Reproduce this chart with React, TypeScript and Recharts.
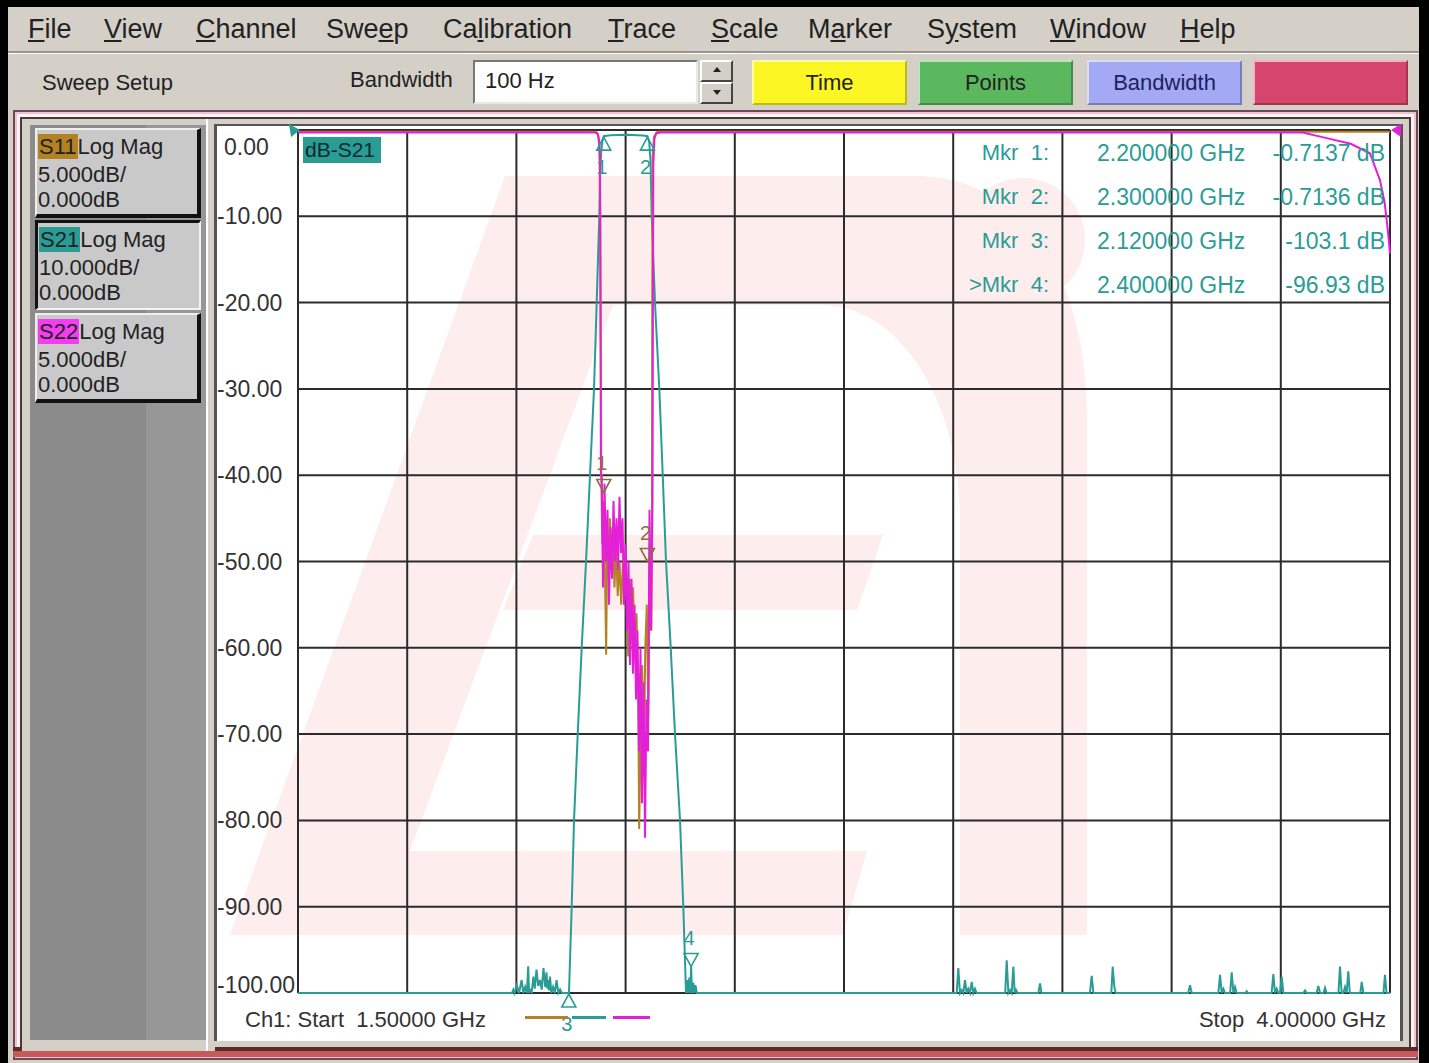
import React from 'react';
import {
  LineChart,
  Line,
  XAxis,
  YAxis,
  CartesianGrid,
  ReferenceDot,
} from 'recharts';

// ---------------- DATA ----------------
const startGHz = 1.5;
const stopGHz = 4.0;
const xGridValues = [1.5, 1.75, 2.0, 2.25, 2.5, 2.75, 3.0, 3.25, 3.5, 3.75, 4.0];
const yTicks = [0, -10, -20, -30, -40, -50, -60, -70, -80, -90, -100];
const yTickLabels = ['0.00', '-10.00', '-20.00', '-30.00', '-40.00', '-50.00', '-60.00', '-70.00', '-80.00', '-90.00', '-100.00'];

// S21, 10 dB/div : [GHz, dB]
const s21Trace: [number, number][] = [
  [1.5, -100], [1.99, -100],
  [1.993, -99.6], [1.996, -100], [2.001, -99.1], [2.006, -100], [2.012, -98.5], [2.016, -100],
  [2.02, -99.3], [2.024, -100], [2.027, -96.9], [2.029, -100], [2.031, -99.6], [2.035, -99.9],
  [2.039, -98.1], [2.042, -99.5], [2.046, -97.3], [2.05, -99.2], [2.054, -98.5], [2.058, -99.6],
  [2.062, -97.1], [2.066, -99.3], [2.069, -97.6], [2.071, -99.5], [2.073, -98.5], [2.075, -99.7],
  [2.077, -98.1], [2.08, -100], [2.084, -99.3], [2.088, -100], [2.092, -98.5], [2.096, -100],
  [2.1, -99.6], [2.104, -100],
  [2.1204, -100], [2.1266, -90], [2.1319, -80], [2.1404, -70], [2.1495, -60], [2.1594, -50],
  [2.1685, -40], [2.1777, -30], [2.1838, -20], [2.1898, -10], [2.1914, -5], [2.194, -2.6],
  [2.197, -1.3], [2.2, -0.7137], [2.215, -0.62], [2.235, -0.58], [2.255, -0.56], [2.275, -0.6],
  [2.29, -0.65], [2.3, -0.7136], [2.304, -1.4], [2.307, -3.5], [2.3098, -10], [2.3173, -20],
  [2.3272, -30], [2.335, -40], [2.3425, -50], [2.3533, -60], [2.3631, -70], [2.3746, -80],
  [2.3821, -90], [2.3883, -100],
  [2.391, -98.5], [2.393, -100], [2.396, -98.2], [2.398, -100], [2.4, -96.93], [2.402, -100],
  [2.405, -98.8], [2.407, -100], [2.41, -99.1], [2.413, -100],
  [3.008, -100], [3.0117, -97.1], [3.0155, -100], [3.0194, -99.65], [3.0232, -100], [3.027, -98.5],
  [3.0308, -100], [3.0346, -99.5], [3.0385, -100], [3.0423, -98.7], [3.0461, -100], [3.0499, -99.5],
  [3.0537, -100],
  [3.119, -100], [3.1225, -96.2], [3.1263, -100], [3.1301, -99.65], [3.1339, -100], [3.1377, -96.95],
  [3.1408, -100], [3.1438, -99.65], [3.147, -100],
  [3.195, -100], [3.1988, -98.9], [3.202, -100],
  [3.313, -100], [3.3171, -98.0], [3.321, -100],
  [3.362, -100], [3.3651, -96.95], [3.3689, -99.3], [3.372, -100],
  [3.538, -100], [3.5422, -99.1], [3.546, -100],
  [3.607, -100], [3.6109, -97.9], [3.6147, -100], [3.6185, -99.5], [3.6223, -100],
  [3.634, -100], [3.6376, -97.6], [3.6414, -100], [3.6452, -99.3], [3.649, -100],
  [3.669, -100], [3.672, -99.8], [3.675, -100],
  [3.729, -100], [3.7329, -97.8], [3.7367, -100], [3.7406, -99.5], [3.7444, -100], [3.7482, -100],
  [3.752, -98.1], [3.756, -100],
  [3.802, -100], [3.8054, -99.7], [3.809, -100],
  [3.832, -100], [3.8359, -99.2], [3.84, -100], [3.848, -100], [3.8512, -99.4], [3.855, -100],
  [3.882, -100], [3.8855, -96.95], [3.8893, -100], [3.8932, -100], [3.897, -99.3], [3.9008, -100],
  [3.9045, -97.5], [3.908, -100],
  [3.932, -100], [3.9352, -98.7], [3.939, -100],
  [3.985, -100], [3.9885, -97.9], [3.992, -100], [4.0, -100],
];

// S11, 5 dB/div : [GHz, dB]
const s11Trace: [number, number][] = [
  [1.5, -0.1], [2.182, -0.1], [2.187, -0.3], [2.19, -1], [2.192, -5], [2.1945, -20],
  [2.1965, -24], [2.1995, -21.5], [2.203, -26], [2.2055, -30.4], [2.208, -23.5], [2.211, -26],
  [2.214, -22.5], [2.2175, -25], [2.221, -23], [2.2245, -26.5], [2.228, -24], [2.232, -27],
  [2.236, -25], [2.24, -27.5], [2.244, -25], [2.248, -27], [2.252, -25.5], [2.256, -30.5],
  [2.2595, -26], [2.263, -28.5], [2.267, -26.5], [2.271, -30], [2.275, -28], [2.279, -33],
  [2.281, -40.5], [2.2845, -35], [2.288, -31], [2.2915, -37.5], [2.295, -30], [2.2985, -27.5],
  [2.302, -34], [2.3055, -24], [2.309, -29], [2.3105, -22], [2.3112, -8], [2.312, -1.5],
  [2.315, -0.4], [2.322, -0.1], [4.0, -0.1],
];

// S22, 5 dB/div : [GHz, dB]
const s22Trace: [number, number][] = [
  [1.5, -0.15], [2.18, -0.15], [2.186, -0.2], [2.1895, -0.6], [2.1915, -1.8], [2.1935, -20],
  [2.1953, -20], [2.1983, -26.5], [2.2017, -20.5], [2.2051, -25], [2.2086, -22], [2.212, -27.5],
  [2.2154, -23], [2.2189, -26], [2.2223, -21.5], [2.2257, -25], [2.2292, -22.5], [2.2326, -25.5],
  [2.236, -21.25], [2.2395, -24.5], [2.2429, -22.5], [2.2463, -27.5], [2.2498, -24], [2.2532, -29],
  [2.2566, -25], [2.2601, -31], [2.2635, -26], [2.2669, -31.5], [2.2704, -27.5], [2.2738, -33],
  [2.2772, -29], [2.2807, -36], [2.2841, -30], [2.2875, -39], [2.291, -32], [2.2944, -41],
  [2.2978, -33], [2.3013, -36], [2.3047, -22], [2.3081, -29], [2.3116, -21.5], [2.3125, -10],
  [2.3135, -2], [2.316, -0.5], [2.32, -0.2], [2.33, -0.15], [3.8, -0.15], [3.86, -0.5],
  [3.91, -0.8], [3.954, -1.35], [3.977, -2.9], [3.988, -4.25], [3.995, -5.8], [4.0, -7.15],
];

// Markers on S21
const markerNums = [1, 2, 3, 4];
const markerFreqs = [2.2, 2.3, 2.12, 2.4];
const markerDbs = [-0.7137, -0.7136, -103.1, -96.93];
const markerFreqText = ['2.200000 GHz', '2.300000 GHz', '2.120000 GHz', '2.400000 GHz'];
const markerDbText = ['-0.7137 dB', '-0.7136 dB', '-103.1 dB', '-96.93 dB'];
const activeMarker = 4;
// Markers shown on the S11/S22 traces (5 dB/div scale)
const reflMarkerNums = [1, 2];
const reflMarkerFreqs = [2.2, 2.3];
const reflMarkerDbs = [-21, -25];

const menuItems = ['File', 'View', 'Channel', 'Sweep', 'Calibration', 'Trace', 'Scale', 'Marker', 'System', 'Window', 'Help'];
const menuUnderline = [0, 0, 0, 3, 2, 0, 0, 1, 1, 0, 0];
const menuX = [28, 104, 196, 326, 443, 608, 711, 808, 927, 1050, 1180];

// ---------------- STYLE ----------------
const FONT = "'Liberation Sans', Arial, sans-serif";
const TEAL = '#2a9c96';
const MAG = '#e41fd8';
const BROWN = '#b48224';
const GRID = '#2b2b2b';
const WIN = '#d4d0c8';
const PINK = '#fdeded';
const LABEL_LEFT = 217;

const toData = (t: [number, number][]) => t.map(([f, v]) => ({ f, v }));
const s21Data = toData(s21Trace);
const s11Data = toData(s11Trace);
const s22Data = toData(s22Trace);

const YTick = (props: any) => {
  const { y, payload } = props;
  const v = payload.value;
  const label = yTickLabels[yTicks.indexOf(v)];
  const dy = v === 0 ? 17 : v === -100 ? -8 : 0;
  const dx = v === 0 ? 7 : 0;
  return (
    <text x={LABEL_LEFT + dx} y={y + dy} textAnchor="start" dominantBaseline="central"
      fontSize={23} fill="#333" fontFamily={FONT}>{label}</text>
  );
};

const markerShape = (num: number, up: boolean, color: string) => (p: any) => {
  const { cx, cy } = p;
  if (up) {
    return (
      <g>
        <path d={`M${cx} ${cy + 1} L${cx - 7} ${cy + 14} L${cx + 7} ${cy + 14} Z`} fill="none" stroke={color} strokeWidth={1.6} />
        <text x={cx - 2} y={cy + 31} textAnchor="middle" dominantBaseline="central" fontSize={20} fill={color} fontFamily={FONT}>{num}</text>
      </g>
    );
  }
  return (
    <g>
      <path d={`M${cx} ${cy} L${cx - 7} ${cy - 13} L${cx + 7} ${cy - 13} Z`} fill="none" stroke={color} strokeWidth={1.6} />
      <text x={cx - 2} y={cy - 29} textAnchor="middle" dominantBaseline="central" fontSize={20} fill={color} fontFamily={FONT}>{num}</text>
    </g>
  );
};

const abs = (l: number, t: number, w: number, h: number, extra: React.CSSProperties = {}): React.CSSProperties => ({
  position: 'absolute', left: l, top: t, width: w, height: h, boxSizing: 'border-box', ...extra,
});

const TraceButton = ({ top, tag, tagColor, scale, selected }: any) => (
  <div style={abs(35, top, 166, 90, {
    background: '#c9c9c9',
    borderTop: selected ? '3px solid #111' : '2px solid #eee',
    borderLeft: selected ? '3px solid #111' : '2px solid #eee',
    borderRight: selected ? '2px solid #f4f4f4' : '4px solid #111',
    borderBottom: selected ? '2px solid #f4f4f4' : '4px solid #111',
    fontFamily: FONT, fontSize: 22, color: '#222', lineHeight: '25px',
  })}>
    <div style={{ position: 'absolute', left: 1, top: 4, whiteSpace: 'pre' }}>
      <span style={{ background: tagColor, padding: '0 1px' }}>{tag}</span>Log Mag
    </div>
    <div style={{ position: 'absolute', left: 1, top: 32 }}>{scale}</div>
    <div style={{ position: 'absolute', left: 1, top: 57 }}>0.000dB</div>
  </div>
);

const ToolButton = ({ left, bg, label, color }: any) => (
  <div style={abs(left, 60, 155, 45, {
    background: bg, borderTop: '2px solid rgba(255,255,255,0.6)', borderLeft: '2px solid rgba(255,255,255,0.6)',
    borderRight: '2px solid rgba(0,0,0,0.25)', borderBottom: '2px solid rgba(0,0,0,0.25)',
    fontFamily: FONT, fontSize: 22, color: color || '#222', textAlign: 'center', lineHeight: '41px',
  })}>{label}</div>
);

export default function App() {
  return (
    <div style={{ position: 'absolute', left: 0, top: 0, width: 1429, height: 1063, background: WIN, overflow: 'hidden', fontFamily: FONT }}>
      {/* outer black frame */}
      <div style={abs(0, 0, 1429, 7, { background: '#000' })} />
      <div style={abs(0, 0, 8, 1063, { background: '#000' })} />
      <div style={abs(1419, 0, 10, 1063, { background: '#000' })} />

      {/* menu bar */}
      {menuItems.map((m, i) => (
        <div key={m} style={{ position: 'absolute', left: menuX[i], top: 14, fontSize: 27, color: '#222', whiteSpace: 'pre' }}>
          {m.slice(0, menuUnderline[i])}
          <span style={{ textDecoration: 'underline' }}>{m[menuUnderline[i]]}</span>
          {m.slice(menuUnderline[i] + 1)}
        </div>
      ))}
      <div style={abs(8, 51, 1411, 2, { background: '#9a968e' })} />
      <div style={abs(8, 53, 1411, 1, { background: '#fff' })} />

      {/* toolbar */}
      <div style={{ position: 'absolute', left: 42, top: 70, fontSize: 22, color: '#222' }}>Sweep Setup</div>
      <div style={{ position: 'absolute', left: 350, top: 67, fontSize: 22, color: '#222' }}>Bandwidth</div>
      <div style={abs(473, 60, 225, 44, { background: '#fff', borderTop: '2px solid #777', borderLeft: '2px solid #777', borderRight: '2px solid #e8e8e8', borderBottom: '2px solid #e8e8e8' })}>
        <div style={{ position: 'absolute', left: 10, top: 6, fontSize: 22, color: '#222' }}>100 Hz</div>
      </div>
      <div style={abs(700, 60, 33, 22, { background: WIN, border: '2px solid', borderColor: '#fff #444 #444 #fff' })}>
        <div style={{ position: 'absolute', left: 11, top: 5, width: 0, height: 0, borderLeft: '4px solid transparent', borderRight: '4px solid transparent', borderBottom: '5px solid #222' }} />
      </div>
      <div style={abs(700, 82, 33, 22, { background: WIN, border: '2px solid', borderColor: '#fff #444 #444 #fff' })}>
        <div style={{ position: 'absolute', left: 11, top: 6, width: 0, height: 0, borderLeft: '4px solid transparent', borderRight: '4px solid transparent', borderTop: '5px solid #222' }} />
      </div>
      <ToolButton left={752} bg="#fdf625" label="Time" />
      <ToolButton left={918} bg="#5cb85e" label="Points" />
      <ToolButton left={1087} bg="#a3a9f2" label="Bandwidth" color="#1c2260" />
      <ToolButton left={1253} bg="#d6466c" label="" />

      {/* main frame */}
      <div style={abs(13, 110, 1405, 950, { border: '2px solid #6b4a55' })} />
      <div style={abs(15, 112, 1401, 946, { border: '2px solid #f2c2d2' })} />
      <div style={abs(17, 114, 1397, 942, { border: '3px solid #fbf2f4' })} />
      <div style={abs(20, 117, 1391, 936, { border: '2px solid #4a3a3a' })} />
      <div style={abs(13, 1047, 1405, 4, { background: '#5a2a2a' })} />
      <div style={abs(13, 1051, 1405, 6, { background: '#c45a5a' })} />

      {/* left trace panel */}
      <div style={abs(22, 119, 186, 932, { background: WIN })} />
      <div style={abs(30, 125, 116, 915, { background: '#8b8b8b' })} />
      <div style={abs(146, 125, 60, 915, { background: '#979797' })} />
      <TraceButton top={128} tag="S11" tagColor={BROWN} scale="5.000dB/" selected={false} />
      <TraceButton top={220} tag="S21" tagColor={TEAL} scale="10.000dB/" selected={true} />
      <TraceButton top={313} tag="S22" tagColor="#f43cf0" scale="5.000dB/" selected={false} />
      <div style={abs(206, 119, 9, 932, { background: WIN, borderLeft: '2px solid #fff' })} />

      {/* chart panel */}
      <div style={abs(214, 124, 1189, 917, { background: '#fff', borderLeft: '3px solid #555', borderTop: '2px solid #555', borderRight: '3px solid #555' })} />

      {/* faint logo watermark */}
      <svg width={1429} height={1063} style={{ position: 'absolute', left: 0, top: 0 }}>
        <path d="M230 935 L505 176 L613 176 L613 305 L410 851 L867 851 L843 935 Z" fill={PINK} />
        <path d="M533 535 L883 535 L857 610 L503 610 Z" fill={PINK} />
        <path d="M505 176 L917 176 C1010 176 1087 260 1087 420 L1087 935 L960 935 L960 520 C960 400 900 305 820 305 L613 305 Z" fill={PINK} />
        <circle cx={1023} cy={240} r={62} fill={PINK} />
      </svg>

      <LineChart width={1429} height={1063} margin={{ top: 130, right: 39, bottom: 70, left: 218 }}
        style={{ position: 'absolute', left: 0, top: 0 }}>
        <XAxis xAxisId="f" type="number" dataKey="f" domain={[startGHz, stopGHz]} hide />
        <YAxis yAxisId="main" type="number" domain={[-100, 0]} ticks={yTicks} interval={0} width={80}
          tickLine={false} axisLine={false} tickSize={0} tickMargin={0} tick={<YTick />} />
        <YAxis yAxisId="half" type="number" domain={[-50, 0]} hide />
        <CartesianGrid xAxisId="f" yAxisId="main" verticalValues={xGridValues} horizontalValues={yTicks}
          stroke={GRID} strokeWidth={2} />
        <Line xAxisId="f" yAxisId="main" data={s21Data} dataKey="v" type="linear" stroke={TEAL}
          strokeWidth={2} dot={false} isAnimationActive={false} />
        <Line xAxisId="f" yAxisId="half" data={s11Data} dataKey="v" type="linear" stroke={BROWN}
          strokeWidth={2} dot={false} isAnimationActive={false} />
        <Line xAxisId="f" yAxisId="half" data={s22Data} dataKey="v" type="linear" stroke={MAG}
          strokeWidth={2} dot={false} isAnimationActive={false} />
        {markerNums.map((n, i) => (
          <ReferenceDot key={'m' + n} xAxisId="f" yAxisId="main" x={markerFreqs[i]}
            y={Math.max(markerDbs[i], -100)} r={0} ifOverflow="visible"
            shape={markerShape(n, markerDbs[i] > -90 || markerDbs[i] < -100, TEAL)} />
        ))}
        {reflMarkerNums.map((n, i) => (
          <ReferenceDot key={'r' + n} xAxisId="f" yAxisId="half" x={reflMarkerFreqs[i]}
            y={reflMarkerDbs[i]} r={0} ifOverflow="visible"
            shape={markerShape(n, false, '#8a7040')} />
        ))}
      </LineChart>

      {/* reference level arrows */}
      <svg width={1429} height={1063} style={{ position: 'absolute', left: 0, top: 0, pointerEvents: 'none' }}>
        <path d="M289 124 L300 130 L291 137 Z" fill={TEAL} />
        <path d="M1401 124 L1391 130 L1401 137 Z" fill={MAG} />
      </svg>

      {/* trace title */}
      <div style={abs(303, 137, 78, 26, { background: TEAL, color: '#0d2b2a', fontSize: 21, lineHeight: '26px', paddingLeft: 2 })}>dB-S21</div>

      {/* marker readout */}
      {markerNums.map((n, i) => (
        <React.Fragment key={'t' + n}>
          <div style={{ position: 'absolute', right: 1429 - 1049, top: 140 + i * 44, fontSize: 22, color: TEAL, whiteSpace: 'pre' }}>
            {(n === activeMarker ? '>' : '') + 'Mkr  ' + n + ':'}
          </div>
          <div style={{ position: 'absolute', left: 1097, top: 140 + i * 44, fontSize: 23, color: TEAL, whiteSpace: 'pre' }}>
            {markerFreqText[i]}
          </div>
          <div style={{ position: 'absolute', right: 1429 - 1385, top: 140 + i * 44, fontSize: 23, color: TEAL, whiteSpace: 'pre' }}>
            {markerDbText[i]}
          </div>
        </React.Fragment>
      ))}

      {/* footer */}
      <div style={{ position: 'absolute', left: 245, top: 1007, fontSize: 22, color: '#333', whiteSpace: 'pre' }}>
        {'Ch1: Start  ' + startGHz.toFixed(5) + ' GHz'}
      </div>
      <div style={abs(525, 1016, 43, 3, { background: BROWN })} />
      <div style={abs(572, 1016, 34, 3, { background: TEAL })} />
      <div style={abs(613, 1016, 37, 3, { background: MAG })} />
      <div style={{ position: 'absolute', right: 1429 - 1386, top: 1007, fontSize: 22, color: '#333', whiteSpace: 'pre' }}>
        {'Stop  ' + stopGHz.toFixed(5) + ' GHz'}
      </div>
    </div>
  );
}
